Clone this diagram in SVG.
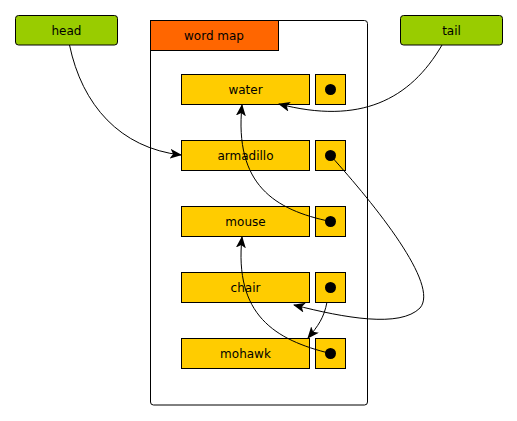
<svg xmlns="http://www.w3.org/2000/svg" width="517" height="421" viewBox="0 0 517 421">
<defs>
<style>
text{font-family:"DejaVu Sans",sans-serif;font-size:12px;fill:#000;text-anchor:middle}
.ptr{fill:#99cc00;stroke:#000;stroke-width:1}
.cell{fill:#ffcc00;stroke:#000;stroke-width:1}
.dot{fill:#000}
.edge{fill:none;stroke:#000;stroke-width:1;marker-end:url(#arr)}
</style>
<marker id="arr" viewBox="0 0 12 10" refX="11" refY="5" markerWidth="12" markerHeight="10" markerUnits="userSpaceOnUse" orient="auto">
<path d="M0,0 L12,5 L0,10 L3,5 Z" fill="#000"/>
</marker>
</defs>
<g id="container">
<rect x="150.5" y="20.5" width="217" height="384.5" rx="3" fill="#fff" stroke="#000"/>
<rect x="150.5" y="20.5" width="128" height="30" fill="#ff6600" stroke="#000"/>
<text x="214" y="39.5">word map</text>
</g>
<g id="head"><rect class="ptr" x="15.5" y="15.5" width="102" height="29.5" rx="3"/><text x="66.5" y="34.5">head</text></g>
<g id="tail"><rect class="ptr" x="400.5" y="15.5" width="102" height="29.5" rx="3"/><text x="451.5" y="34.5">tail</text></g>
<g id="water"><rect class="cell" x="181.5" y="74.5" width="128" height="30"/><text x="245.5" y="93.5">water</text><rect class="cell" x="315.5" y="74.5" width="30" height="30"/><circle class="dot" cx="330.5" cy="89.5" r="5.5"/></g>
<g id="armadillo"><rect class="cell" x="181.5" y="140.5" width="128" height="30"/><text x="245.5" y="159.5">armadillo</text><rect class="cell" x="315.5" y="140.5" width="30" height="30"/><circle class="dot" cx="330.5" cy="155.5" r="5.5"/></g>
<g id="mouse"><rect class="cell" x="181.5" y="206.5" width="128" height="30"/><text x="245.5" y="225.5">mouse</text><rect class="cell" x="315.5" y="206.5" width="30" height="30"/><circle class="dot" cx="330.5" cy="221.5" r="5.5"/></g>
<g id="chair"><rect class="cell" x="181.5" y="272.5" width="128" height="30"/><text x="245.5" y="291.5">chair</text><rect class="cell" x="315.5" y="272.5" width="30" height="30"/><circle class="dot" cx="330.5" cy="287.5" r="5.5"/></g>
<g id="mohawk"><rect class="cell" x="181.5" y="338.5" width="128" height="30"/><text x="245.5" y="357.5">mohawk</text><rect class="cell" x="315.5" y="338.5" width="30" height="30"/><circle class="dot" cx="330.5" cy="353.5" r="5.5"/></g>
<g id="connectors">
<path class="edge" d="M69.5,45 C 82,105 120,148 181,155"/>
<path class="edge" d="M442,45 C 410,100 360,125 279,104"/>
<path class="edge" d="M330.5,155.5 C 375,205 440,285 420,308 C 400,328 345,318 294,305"/>
<path class="edge" d="M330.5,221.5 C 275,210 234,185 242,105"/>
<path class="edge" d="M327,302 C 324,318 318,326 308,338"/>
<path class="edge" d="M330.5,353.5 C 275,340 234,315 242,237"/>
</g>
</svg>
